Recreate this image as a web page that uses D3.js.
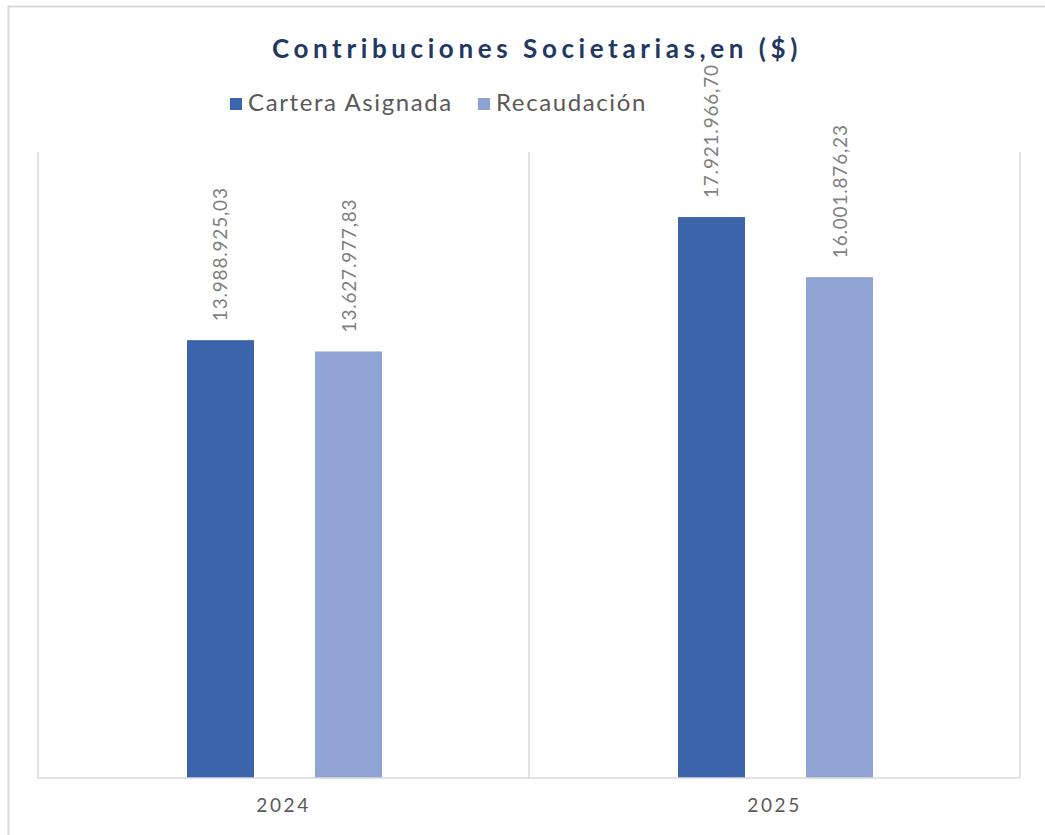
<!DOCTYPE html>
<html>
<head>
<meta charset="utf-8">
<script src="https://cdn.jsdelivr.net/npm/d3@7"></script>
<style>
  body { margin: 0; background: #fff; }
  svg { display: block; }
</style>
</head>
<body>
<svg id="chart"></svg>
<script>
const years = ['2024', '2025'];
const seriesNames = ['Cartera Asignada', 'Recaudación'];
const carteraAsignada = [13988925.03, 17921966.70];
const recaudacion = [13627977.83, 16001876.23];
const yMax = 20000000;

const colors = ['#3c64ab', '#8fa4d4'];
const width = 1045, height = 835;
const plot = {left: 38, right: 1020, top: 152, bottom: 778};

const svg = d3.select('#chart')
    .attr('width', width)
    .attr('height', height);

// outer frame (top + left visible)
svg.append('path')
    .attr('d', `M8.5,${height}V6.5H${width}`)
    .attr('fill', 'none')
    .attr('stroke', '#d9d9d9')
    .attr('stroke-width', 2);

let x = d3.scaleBand()
    .domain(years)
    .range([plot.left, plot.right]);

// two bars inside each year band
let xInner = d3.scaleBand()
    .domain(seriesNames)
    .range([149, 344])
    .paddingInner(0.4766);

let y = d3.scaleLinear()
    .domain([0, yMax])
    .range([plot.bottom, plot.top]);

// category separators
svg.append('g')
    .selectAll('line')
    .data([plot.left, plot.left + x.bandwidth(), plot.right])
    .enter()
    .append('line')
        .attr('x1', d => d).attr('x2', d => d)
        .attr('y1', plot.top).attr('y2', plot.bottom)
        .attr('stroke', '#d9d9d9')
        .attr('stroke-width', 1.5);

let data = years.map((yr, i) => ({
    year: yr,
    values: [
        {name: seriesNames[0], value: carteraAsignada[i]},
        {name: seriesNames[1], value: recaudacion[i]}
    ]
}));

const fmt = v => {
    let [intPart, dec] = v.toFixed(2).split('.');
    return intPart.replace(/\B(?=(\d{3})+(?!\d))/g, '.') + ',' + dec;
};

let group = svg.append('g')
    .selectAll('g')
    .data(data)
    .enter()
    .append('g')
        .attr('transform', d => `translate(${x(d.year)},0)`);

group.selectAll('rect')
    .data(d => d.values)
    .enter()
    .append('rect')
        .attr('x', d => xInner(d.name))
        .attr('width', xInner.bandwidth())
        .attr('y', d => y(d.value))
        .attr('height', d => y(0) - y(d.value))
        .attr('fill', (d, i) => colors[i]);

group.selectAll('text')
    .data(d => d.values)
    .enter()
    .append('text')
        .attr('transform', d => `translate(${xInner(d.name) + xInner.bandwidth() / 2 + 7},${y(d.value) - 19}) rotate(-90)`)
        .attr('font-family', 'Lato, sans-serif')
        .attr('font-size', 19)
        .attr('letter-spacing', 0.8)
        .attr('fill', '#7f7f7f')
        .text(d => fmt(d.value));

// baseline
svg.append('line')
    .attr('x1', plot.left).attr('x2', plot.right)
    .attr('y1', plot.bottom).attr('y2', plot.bottom)
    .attr('stroke', '#d9d9d9')
    .attr('stroke-width', 1.5);

// x axis labels
let xAxis = svg.append('g')
    .attr('transform', `translate(0,${plot.bottom})`)
    .call(d3.axisBottom(x).tickSize(0).tickPadding(21));
xAxis.select('.domain').remove();
xAxis.selectAll('text')
    .attr('font-family', 'Lato, sans-serif')
    .attr('font-size', 19)
    .attr('letter-spacing', 2.6)
    .attr('fill', '#595959');

// title
svg.append('text')
    .attr('x', 537)
    .attr('y', 58)
    .attr('text-anchor', 'middle')
    .attr('font-family', 'Lato, sans-serif')
    .attr('font-weight', 'bold')
    .attr('font-size', 26)
    .attr('letter-spacing', 4.6)
    .attr('fill', '#1f3864')
    .text('Contribuciones Societarias,en ($)');

// legend
const legendX = [230, 478];
let legend = svg.append('g')
    .selectAll('g')
    .data(seriesNames)
    .enter()
    .append('g')
        .attr('transform', (d, i) => `translate(${legendX[i]},98)`);
legend.append('rect')
    .attr('width', 12)
    .attr('height', 12)
    .attr('fill', (d, i) => colors[i]);
legend.append('text')
    .attr('x', 18)
    .attr('y', 13)
    .attr('font-family', 'Lato, sans-serif')
    .attr('font-size', 24)
    .attr('letter-spacing', 1.6)
    .attr('fill', '#595959')
    .text(d => d);
</script>
</body>
</html>
